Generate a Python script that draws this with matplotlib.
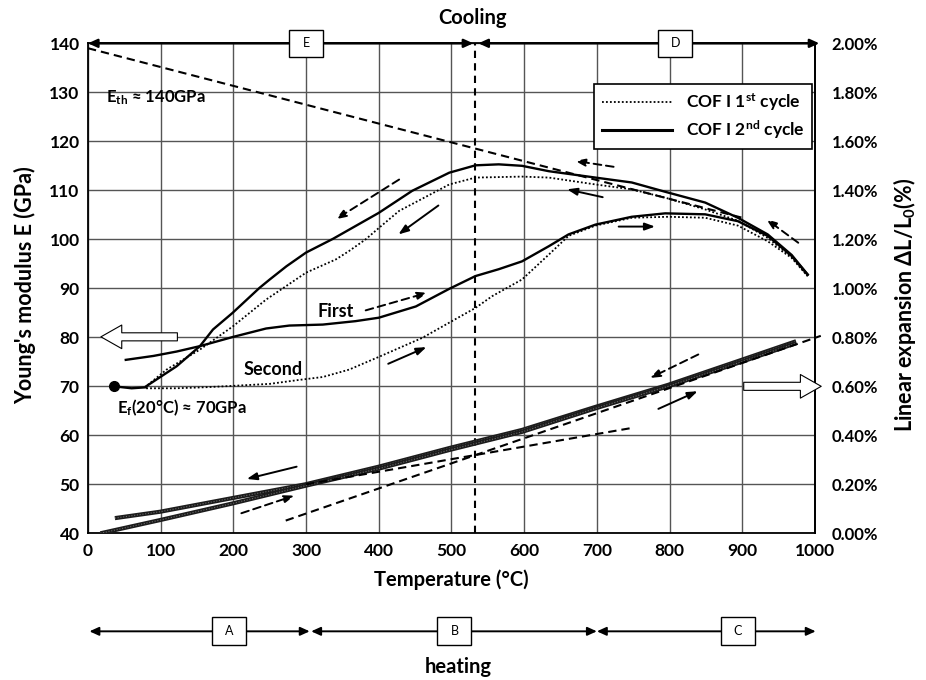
import matplotlib
matplotlib.use("Agg")
import matplotlib.pyplot as plt
from matplotlib.lines import Line2D
from matplotlib.patches import Rectangle

plt.rcParams['font.family'] = ['Lato', 'DejaVu Sans']
plt.rcParams['font.weight'] = 'bold'
plt.rcParams['mathtext.fontset'] = 'custom'
plt.rcParams['mathtext.rm'] = 'Lato:bold'
plt.rcParams['mathtext.bf'] = 'Lato:bold'
plt.rcParams['mathtext.it'] = 'Lato:bold'

# ---- Young's modulus, 1st cycle (dotted) ----
t_heat1 = [80, 120, 160, 200, 250, 290, 323, 359, 400, 460, 497, 533, 556, 597,
           634, 661, 698, 748, 798, 849, 894, 935, 968, 990]
e_heat1 = [69.6, 69.6, 69.8, 70.1, 70.5, 71.3, 71.9, 73.4, 76.0, 79.9, 83.0, 86.0,
           88.4, 91.8, 96.9, 100.7, 102.8, 104.4, 104.6, 104.4, 102.8, 99.6, 96.2, 92.5]
t_cool1 = [990, 968, 935, 894, 849, 794, 748, 698, 634, 597, 533, 497, 460, 428,
           400, 382, 359, 341, 300, 245, 199, 154, 108, 80]
e_cool1 = [92.5, 96.4, 100.3, 103.8, 106.1, 108.5, 110.2, 111.2, 112.6, 112.8, 112.6,
           111.2, 108.3, 105.8, 102.3, 100.0, 97.6, 95.9, 93.2, 87.7, 82.2, 77.5, 73.4, 70.0]

# ---- Young's modulus, 2nd cycle (solid) ----
t_heat2 = [52, 90, 122, 154, 200, 245, 277, 323, 368, 400, 451, 497, 533, 565, 597,
           634, 661, 698, 748, 794, 849, 894, 935, 968, 990]
e_heat2 = [75.4, 76.2, 77.1, 78.2, 80.1, 81.8, 82.4, 82.6, 83.3, 84.0, 86.3, 89.9, 92.5,
           93.9, 95.5, 98.6, 101.0, 103.0, 104.6, 105.3, 105.1, 103.7, 100.7, 96.6, 92.8]
t_cool2 = [990, 968, 935, 894, 849, 794, 748, 698, 634, 597, 565, 533, 497, 446, 400,
           337, 300, 273, 250, 236, 199, 172, 154, 122, 80]
e_cool2 = [92.8, 96.8, 101.0, 104.4, 107.5, 109.7, 111.6, 112.6, 113.9, 115.0, 115.3,
           115.1, 113.6, 109.9, 105.4, 100.1, 97.3, 94.5, 91.8, 90.1, 85.0, 81.6, 78.2,
           74.1, 70.0]

# start point E_f(20 C)
t_start = [36, 60, 80]
e_start = [70.0, 69.6, 69.8]

# ---- linear expansion (%), right axis ----
t_exp_cool = [37, 99, 199, 299, 400, 497, 597, 698, 798, 899, 974]
x_exp_cool = [0.062, 0.088, 0.144, 0.200, 0.272, 0.348, 0.422, 0.516, 0.606, 0.708, 0.784]
t_exp_heat = [17, 99, 199, 299, 400, 497, 597, 698, 798, 899, 974]
x_exp_heat = [0.000, 0.054, 0.122, 0.194, 0.264, 0.340, 0.414, 0.510, 0.600, 0.700, 0.776]

# tangent / guide lines
t_eth = [0, 900]
e_eth = [139.0, 104.4]
t_split = 532
t_tan_a = [272, 1008]
x_tan_a = [0.052, 0.806]
t_tan_b = [300, 748]
x_tan_b = [0.200, 0.430]

# direction arrows (tail -> head), E coordinates
solid_arrows = [((482, 106.9), (427, 101.0)), ((708, 108.6), (659, 110.2)),
                ((730, 102.6), (780, 102.6)), ((413, 74.6), (465.5, 78.0)),
                ((287, 53.6), (218.5, 51.1)), ((784.6, 65.4), (838.6, 69.0))]
dashed_arrows = [((428, 112.2), (341, 104.1)), ((723, 114.8), (670, 116.0)),
                 ((977, 99.3), (933, 104.1)), ((382, 85.5), (467, 89.1)),
                 ((211, 44.1), (284, 47.7)), ((839.5, 76.5), (773, 71.7))]

# stage segments
cool_segments = [(0, 530), (537, 1006)]
cool_boxes = [(300, 'E'), (808, 'D')]
heat_segments = [(2, 305), (307, 700), (700, 1001)]
heat_boxes = [(194, 'A'), (504, 'B'), (894, 'C')]

fig = plt.figure(figsize=(9.26, 6.8), dpi=100)
ax = fig.add_axes([0.0950, 0.2157, 0.7851, 0.7206])
ax2 = ax.twinx()

ax.set_xlim(0, 1000)
ax.set_ylim(40, 140)
ax2.set_ylim(0, 2.0)
ax.set_xticks(range(0, 1001, 100))
ax.set_yticks(range(40, 141, 10))
yt2 = [i * 0.2 for i in range(11)]
ax2.set_yticks(yt2)
ax2.set_yticklabels([f"{v:.2f}%" for v in yt2])
ax.tick_params(length=0, labelsize=12.5, pad=6)
ax.tick_params(axis='x', pad=7)
ax2.tick_params(length=0, labelsize=12, pad=12)
ax.grid(True, color='#555555', lw=1.0)
for s in ax.spines.values():
    s.set_linewidth(1.3)
    s.set_color('black')
for side in ('top', 'left', 'bottom'):
    ax2.spines[side].set_visible(False)
ax2.spines['right'].set_linewidth(1.3)

# curves
dot = (0, (1, 1.2))
ax.plot(t_heat1, e_heat1, color='black', lw=1.3, ls=dot)
ax.plot(t_cool1, e_cool1, color='black', lw=1.3, ls=dot)
ax.plot(t_heat2, e_heat2, color='black', lw=1.7)
ax.plot(t_cool2, e_cool2, color='black', lw=1.7)
ax.plot(t_start, e_start, color='black', lw=1.7)
ax.plot(t_start[:1], e_start[:1], 'o', color='black', ms=7)

for tt, xx in ((t_exp_cool, x_exp_cool), (t_exp_heat, x_exp_heat)):
    ax2.plot(tt, xx, color='#1c1c1c', lw=3.0, solid_capstyle='butt')
    ax2.plot(tt, xx, color='#6a6a6a', lw=0.8, ls=(0, (1, 1.5)))

ax.plot(t_eth, e_eth, color='black', lw=1.5, ls=(0, (4, 2.4)))
ax.plot([t_split, t_split], [40, 140], color='black', lw=1.5, ls=(0, (3.5, 2.5)))
ax2.plot(t_tan_a, x_tan_a, color='black', lw=1.5, ls=(0, (4, 2.4)), clip_on=False)
ax2.plot(t_tan_b, x_tan_b, color='black', lw=1.5, ls=(0, (4, 2.4)))

for tail, head in solid_arrows:
    ax.annotate('', xy=head, xytext=tail,
                arrowprops=dict(arrowstyle='-|>,head_length=0.6,head_width=0.22',
                                color='black', lw=1.4, shrinkA=0, shrinkB=0,
                                mutation_scale=10))
for tail, head in dashed_arrows:
    ax.annotate('', xy=head, xytext=tail,
                arrowprops=dict(arrowstyle='-|>,head_length=0.6,head_width=0.22',
                                color='black', lw=1.4, ls=(0, (4, 2.4)),
                                shrinkA=0, shrinkB=0, mutation_scale=10))

# open block arrows pointing to axes
block = 'simple,head_length=0.75,head_width=0.85,tail_width=0.29'
ax.annotate('', xy=(17.8, 80.1), xytext=(123, 80.1), annotation_clip=False,
            arrowprops=dict(arrowstyle=block, mutation_scale=20, fc='white',
                            ec='black', lw=0.8, shrinkA=0, shrinkB=0))
ax2.annotate('', xy=(1008.6, 0.6), xytext=(902, 0.6), annotation_clip=False,
             arrowprops=dict(arrowstyle=block, mutation_scale=20, fc='white',
                             ec='black', lw=0.8, shrinkA=0, shrinkB=0))

# text annotations
ax.text(25, 129, r'E$_{\mathbf{th}}$ ≈ 140GPa', fontsize=12, va='center')
ax.text(40, 65.6, r'E$_{\mathbf{f}}$(20°C) ≈ 70GPa', fontsize=12, va='center')
ax.text(341, 85.2, 'First', fontsize=13, va='center', ha='center')
ax.text(255, 73.4, 'Second', fontsize=13, va='center', ha='center')

# cooling stages on top, heating stages below
for a0, a1 in cool_segments:
    ax.annotate('', xy=(a1, 140), xytext=(a0, 140), annotation_clip=False,
                arrowprops=dict(arrowstyle='<|-|>,head_length=0.55,head_width=0.25',
                                color='black', lw=1.7, shrinkA=0, shrinkB=0,
                                mutation_scale=10))
for a0, a1 in heat_segments:
    ax.annotate('', xy=(a1, 20), xytext=(a0, 20), annotation_clip=False,
                arrowprops=dict(arrowstyle='<|-|>,head_length=0.55,head_width=0.25',
                                color='black', lw=1.4, shrinkA=0, shrinkB=0,
                                mutation_scale=10))
for tc, lab in cool_boxes:
    ax.add_patch(Rectangle((tc - 23.3, 137.2), 46.6, 5.6, fc='white', ec='black',
                           lw=1.0, clip_on=False, zorder=6))
    ax.text(tc, 140, lab, ha='center', va='center', fontsize=9,
            fontweight='normal', zorder=7)
for tc, lab in heat_boxes:
    ax.add_patch(Rectangle((tc - 23.3, 17.2), 46.6, 5.7, fc='white', ec='black',
                           lw=1.0, clip_on=False, zorder=6))
    ax.text(tc, 20, lab, ha='center', va='center', fontsize=9,
            fontweight='normal', zorder=7)

fig.text(473 / 926, 1 - 18 / 680, 'Cooling', fontsize=14.5, ha='center', va='center')
fig.text(458 / 926, 1 - 667 / 680, 'heating', fontsize=14.5, ha='center', va='center')
fig.text(451 / 926, 1 - 580 / 680, 'Temperature (°C)', fontsize=14.5,
         ha='center', va='center')
fig.text(25 / 926, 1 - 285 / 680, "Young's modulus E (GPa)", fontsize=15.5,
         rotation=90, ha='center', va='center')
fig.text(905 / 926, 1 - 305 / 680, r'Linear expansion ΔL/L$_{\mathbf{0}}$(%)',
         fontsize=15.5, rotation=90, ha='center', va='center')

handles = [Line2D([], [], color='black', lw=1.3, ls=dot),
           Line2D([], [], color='black', lw=2.2)]
labels = [r'COF I 1$^{\mathbf{st}}$ cycle', r'COF I 2$^{\mathbf{nd}}$ cycle']
leg = ax2.legend(handles, labels, loc='upper right', bbox_to_anchor=(0.996, 0.917),
                 borderaxespad=0, fontsize=12.5, handlelength=4.0, handletextpad=0.8,
                 fancybox=False, framealpha=1, edgecolor='black', borderpad=0.45,
                 labelspacing=0.3)
leg.get_frame().set_linewidth(1.2)

fig.savefig('out.png', dpi=100)
